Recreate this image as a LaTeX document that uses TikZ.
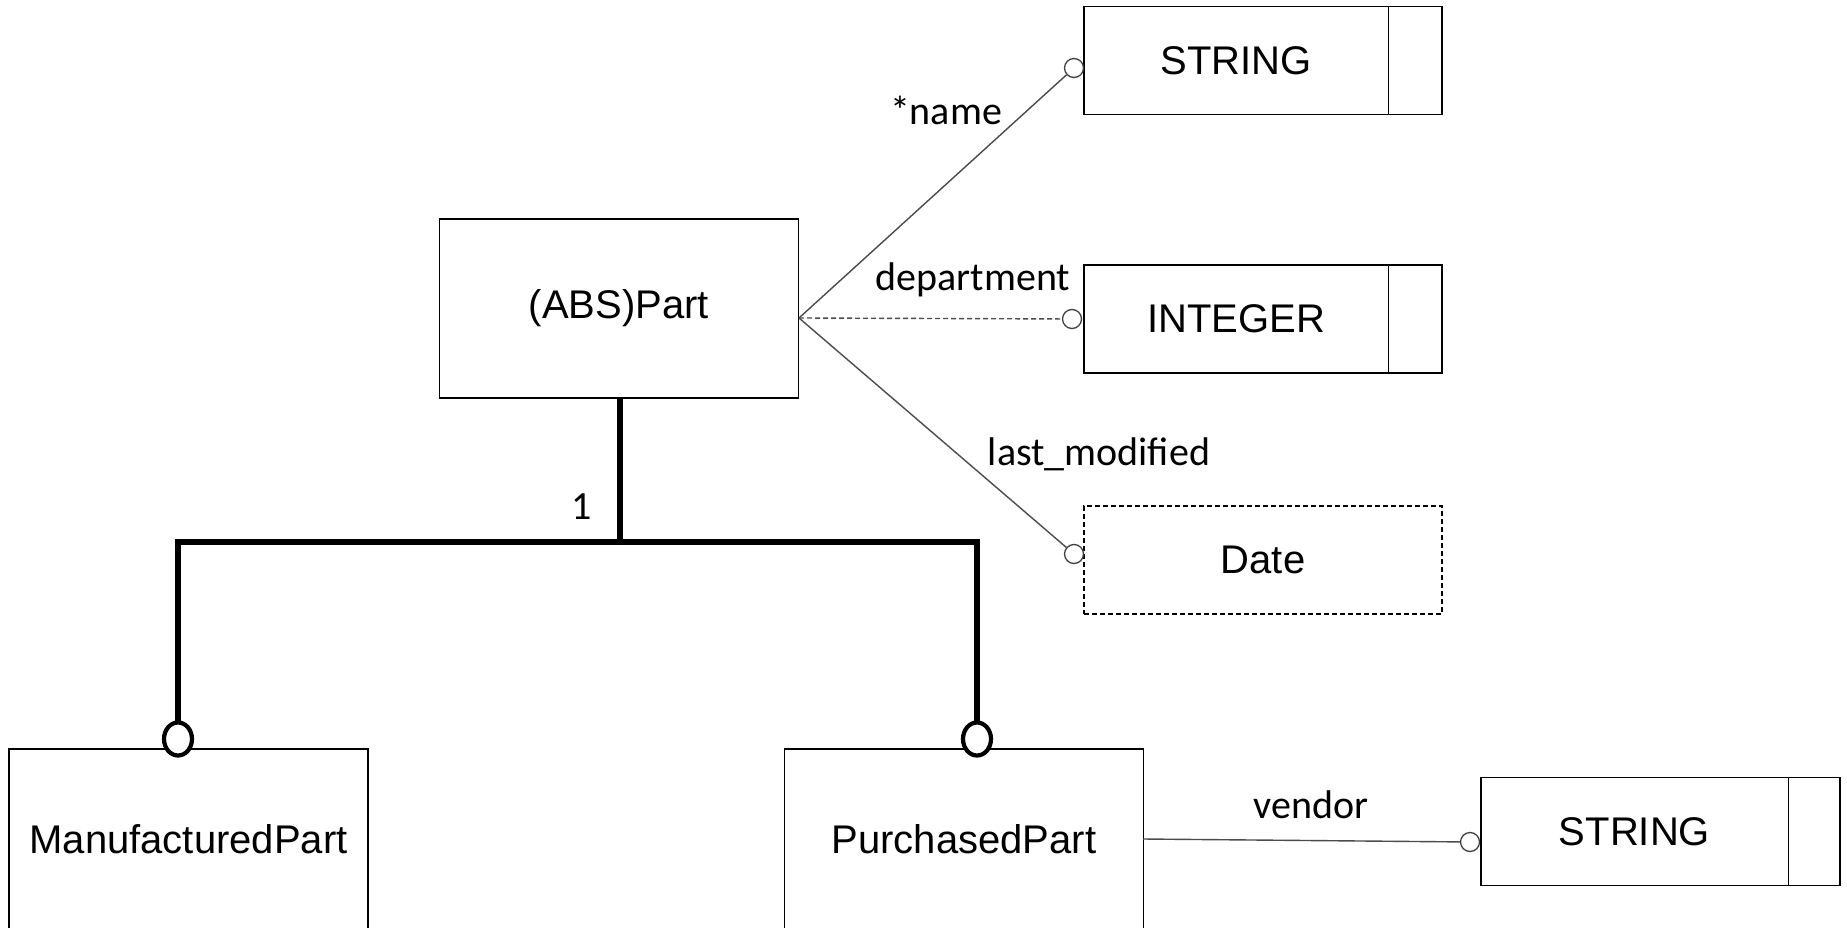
\documentclass[tikz,border=0pt]{standalone}
\usepackage{fontspec}
\usetikzlibrary{shapes.geometric}
\newfontfamily\arialf{Liberation Sans}
\newfontfamily\calf{Carlito}
\begin{document}
\begin{tikzpicture}[x=1pt,y=-1pt,
  entity/.style={draw=black, line width=1.4pt, minimum width=359pt, minimum height=179pt, inner sep=0pt, font=\arialf\fontsize{40}{48}\selectfont},
  typebox/.style={draw=black, line width=1.4pt, minimum width=358pt, minimum height=108pt, inner sep=0pt},
  typetxt/.style={inner sep=0pt, font=\arialf\fontsize{40}{48}\selectfont},
  lbl/.style={inner sep=0pt, font=\calf\fontsize{40}{48}\selectfont},
  smallc/.style={circle, draw=black!75, line width=1.3pt, fill=white, minimum size=19pt, inner sep=0pt},
  bigc/.style={ellipse, draw=black, line width=4.2pt, fill=white, minimum width=28pt, minimum height=33pt, inner sep=0pt},
  attr/.style={draw=black!70, line width=1.4pt},
  dsh/.style={dash pattern=on 5pt off 3pt},
  thick/.style={draw=black, line width=5.5pt}]
\useasboundingbox (0,0) rectangle (1847,928);
\clip (0,0) rectangle (1847,928);
\fill[white] (0,0) rectangle (1847,928);

% entities
\node[entity] (abs) at (619,308.5) {(ABS)Part};
\node[entity, minimum height=230pt] (mp) at (188.5,864) {};
\node[typetxt] (mpt) at (188.5,839) {ManufacturedPart};
\node[entity, minimum height=230pt] (pp) at (964,864) {};
\node[typetxt] (ppt) at (964,839) {PurchasedPart};

% type boxes
\node[typebox] (t1) at (1263,60.5) {};
\node[typetxt] (t1t) at (1236,60.5) {STRING};
\draw[line width=1.4pt] ([xshift=-54pt]t1.north east) -- ([xshift=-54pt]t1.south east);

\node[typebox] (t2) at (1263,319) {};
\node[typetxt] (t2t) at (1236,319) {INTEGER};
\draw[line width=1.4pt] ([xshift=-54pt]t2.north east) -- ([xshift=-54pt]t2.south east);

\node[typebox, dsh, line width=1.3pt] (t3) at (1263,560) {};
\node[typetxt] (t3t) at (1263,560) {Date};

\node[typebox, minimum width=359pt] (t4) at (1660.5,831.5) {};
\node[typetxt] (t4t) at (1634.5,831.5) {STRING};
\draw[line width=1.4pt] ([xshift=-52pt]t4.north east) -- ([xshift=-52pt]t4.south east);

% attribute connectors
\coordinate (pr) at (799,318);
\node[smallc] (c1) at (1074,68) {};
\node[smallc] (c2) at (1072,319) {};
\node[smallc] (c3) at (1074,554) {};
\coordinate (vs) at (1143,839);
\node[smallc] (c4) at (1470,842) {};
\draw[attr] (pr) -- (c1);
\draw[attr, dsh] (pr) -- (c2);
\draw[attr] (pr) -- (c3);
\draw[attr] (vs) -- (c4);
\node[lbl] (l1) at (946,110) {*name};
\node[lbl] (l2) at (973,280) {department};
\node[lbl] (l3) at (1099,454) {last\_modified};
\node[lbl] (l4) at (1311,805) {vendor};

% hierarchy
\coordinate (jc) at (620,542);
\coordinate (jl) at (178,542);
\coordinate (jr) at (977,542);
\node[bigc] (b1) at (178,739) {};
\node[bigc] (b2) at (977,739) {};
\draw[thick] (abs.south -| jc) -- (jc);
\draw[thick, line cap=rect] (b1.north) -- (jl) -- (jr) -- (b2.north);
\node[lbl] (one) at (582,507) {1};
\end{tikzpicture}
\end{document}
